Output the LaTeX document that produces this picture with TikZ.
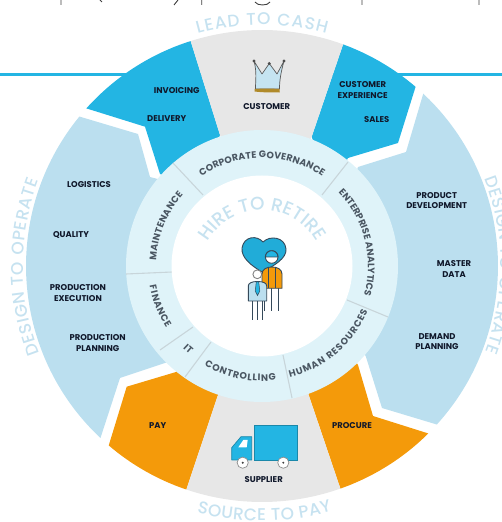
\documentclass[tikz,border=0pt]{standalone}
\usepackage{fontspec}
\setmainfont{Poppins}
\newfontfamily\titlefont{Poppins Medium}
\usetikzlibrary{calc,decorations.text}
\definecolor{bluesec}{HTML}{23B5E3}
\definecolor{lightsec}{HTML}{BBDFEF}
\definecolor{greysec}{HTML}{E7E7E7}
\definecolor{orangesec}{HTML}{F49A0A}
\definecolor{ringc}{HTML}{DFF3F9}
\definecolor{outertxt}{HTML}{C6E2F0}
\definecolor{labeltxt}{HTML}{10182B}
\definecolor{ringtxt}{HTML}{4A5662}
\definecolor{divc}{HTML}{C8D5DA}
\definecolor{iconline}{HTML}{35495A}
\definecolor{goldband}{HTML}{B08A2A}
\newcommand{\arctext}[7]{% size colour centre r a b text
  \path[decorate,decoration={text along path,text align={fit to path},
    text={|\fontsize{#1}{#1}\selectfont\bfseries\color{#2}|#7}}]
    ($(#3)+(#5:#4)$) arc[start angle=#5,end angle=#6,radius=#4];}
\newcommand{\arctitle}[7]{% same, medium weight
  \path[decorate,decoration={text along path,text align={fit to path},
    text={|\titlefont\fontsize{#1}{#1}\selectfont\color{#2}|#7}}]
    ($(#3)+(#5:#4)$) arc[start angle=#5,end angle=#6,radius=#4];}
\tikzset{
  seclabel/.style={font=\fontsize{8.4}{10.6}\selectfont\bfseries,text=labeltxt,align=center,inner sep=0pt},
  divline/.style={draw=divc,line width=1.1pt},
  iconstroke/.style={draw=iconline,line width=0.9pt,line join=round}
}
\begin{document}
\begin{tikzpicture}[x=1pt,y=1pt]
\useasboundingbox (0,0) rectangle (502,522);
\clip (0,0) rectangle (502,522);
\coordinate (C) at (262,256);
\coordinate (H) at (262,250);
% cut-off line of text at the top
\draw[color=black!75,line width=0.9pt]
  (61,522)--(61,517) (100,522)--(102,520) (178,522)--(174,517) (201.7,522)--(201.7,517)
  (362,522)--(362,517) (479,522)--(479,517);
\draw[color=black!75,line width=0.9pt] (255,520) .. controls (257,516) and (268,516) .. (270,520);
% rule behind the wheel
\fill[bluesec] (0,445.5) rectangle (502,448.5);
% sectors
\fill[bluesec] ($(C)+(107.6:236)$) arc[start angle=107.6,end angle=138.1,radius=236]
  -- (145,395.3) -- (160,348) -- (200,332) -- (220,387) -- cycle;
\fill[bluesec] ($(C)+(69.9:236)$) arc[start angle=69.9,end angle=49.4,radius=236]
  -- (398,379) -- (348,364) -- (330,332) -- (311.7,385.3) -- cycle;
\fill[greysec] ($(C)+(107.6:236)$) arc[start angle=107.6,end angle=69.9,radius=236]
  -- (311.7,385.3) -- (262,300) -- (220,387) -- cycle;
\fill[lightsec] ($(C)+(140.7:236)$) arc[start angle=140.7,end angle=226.8,radius=236]
  -- (120,144) -- (168,160) -- (200,222) -- (200,332) -- (150,345) -- (138,388) -- cycle;
\fill[lightsec] ($(C)+(46.9:236)$) arc[start angle=46.9,end angle=-42.2,radius=236]
  -- (382,114) -- (366,165) -- (340,222) -- (340,302) -- (358,355) -- (406,370) -- cycle;
\fill[orangesec] (176,150) -- (126.7,135.3) -- ($(C)+(229.5:236)$) arc[start angle=229.5,end angle=251.3,radius=236]
  -- (218,127) -- (230,182) -- (190,192) -- cycle;
\fill[orangesec] (358,157) -- (373,106) -- ($(C)+(-45.2:236)$) arc[start angle=-45.2,end angle=-70.6,radius=236]
  -- (308,129) -- (290,182) -- (335,192) -- cycle;
\fill[greysec] ($(C)+(251.3:236)$) arc[start angle=251.3,end angle=289.4,radius=236]
  -- (308,129) -- (262,220) -- (218,127) -- cycle;
% ring
\fill[ringc] (C) circle[radius=136];
\draw[divline] (173,359)--(203,327);
\draw[divline] (348,360)--(322,327);
\draw[divline] (347,222)--(388,205);
\draw[divline] (283,167)--(292,124);
\draw[divline] (211,180)--(185,145);
\draw[divline] (193,195)--(160,172);
\draw[divline] (172,250)--(126,248);
\fill[white] (C) circle[radius=90.5];
% outer titles
\arctitle{17}{outertxt}{C}{241}{105.5}{74.5}{LEAD TO CASH}
\arctitle{17}{outertxt}{C}{255}{255.2}{285.9}{SOURCE TO PAY}
\arctitle{17}{outertxt}{C}{239}{201.5}{159}{DESIGN TO OPERATE}
\arctitle{17}{outertxt}{C}{239}{21.5}{-21}{DESIGN TO OPERATE}
\arctitle{18.3}{outertxt}{H}{62}{151}{29}{HIRE TO RETIRE}
% ring titles
\arctext{9.4}{ringtxt}{C}{108}{124}{56}{CORPORATE GOVERNANCE}
\arctext{9.4}{ringtxt}{C}{106}{177}{138}{MAINTENANCE}
\arctext{9.4}{ringtxt}{C}{114}{190}{213}{FINANCE}
\arctext{9.4}{ringtxt}{C}{114}{226}{230.5}{IT}
\arctext{9.4}{ringtxt}{C}{115}{240}{277}{CONTROLLING}
\arctext{9.4}{ringtxt}{C}{115}{-76}{-23}{HUMAN RESOURCES}
\arctext{9.4}{ringtxt}{C}{106}{44}{-16}{ENTERPRISE ANALYTICS}
% sector labels
\node[seclabel] (invoicing) at (176.7,431.3) {INVOICING};
\node[seclabel] (delivery) at (166.7,403.3) {DELIVERY};
\node[seclabel] (customer) at (266.7,415.3) {CUSTOMER};
\node[seclabel] (custexp) at (362.7,432) {CUSTOMER\\EXPERIENCE};
\node[seclabel] (sales) at (376.7,402) {SALES};
\node[seclabel] (logistics) at (89,337) {LOGISTICS};
\node[seclabel] (quality) at (71,287) {QUALITY};
\node[seclabel] (prodexec) at (78,229) {PRODUCTION\\EXECUTION};
\node[seclabel] (prodplan) at (97.7,179) {PRODUCTION\\PLANNING};
\node[seclabel] (proddev) at (436.7,321.3) {PRODUCT\\DEVELOPMENT};
\node[seclabel] (master) at (454,253) {MASTER\\DATA};
\node[seclabel] (demand) at (437,180.3) {DEMAND\\PLANNING};
\node[seclabel] (pay) at (157.7,96.3) {PAY};
\node[seclabel] (procure) at (352,96.3) {PROCURE};
\node[seclabel] (supplier) at (263.7,42) {SUPPLIER};
% crown
\draw[draw=black!65,fill=lightsec!85!white,line width=0.7pt,line join=round]
  (254,461) -- (262,448) -- (269.3,458.5) -- (277,448) -- (284,461)
  .. controls (281,450) and (279.5,442) .. (279.5,433) -- (255.5,433) .. controls (255.5,442) and (257,450) .. (254,461) -- cycle;
\fill[black!70] (254,461) circle[radius=1.6] (269.3,458.5) circle[radius=1.6] (284,461) circle[radius=1.6];
\fill[goldband] (254.5,433) .. controls (262,433.5) and (272,433.5) .. (279.5,433)
  -- (279.8,429.5) .. controls (272,429.5) and (262,429.5) .. (254.5,430.5) -- cycle;
% truck
\draw[fill=bluesec,draw=bluesec!75!black,line width=0.7pt] (254.3,62) rectangle (297.7,96.3);
\draw[fill=bluesec,draw=bluesec!75!black,line width=0.7pt,line join=round]
  (231.7,74.3) -- (241,85.3) -- (251.7,85.3) -- (251.7,62) -- (231.7,62) -- cycle;
\fill[white] (238.3,74.7) -- (243.3,82) -- (247.7,82) -- (246.7,74.7) -- cycle;
\foreach \wx in {242.7,283.3}{
  \draw[fill=white,draw=black!45,line width=0.7pt] (\wx,59.3) circle[radius=5.6];
  \fill[black!75] (\wx,59.3) circle[radius=1.1];
}
% heart
\draw[iconstroke,fill=bluesec!95!black] (263,280) .. controls (257,287) and (244,286) .. (242,274)
  .. controls (241,264) and (252,256) .. (262,250) .. controls (274,256) and (287,264) .. (286,273)
  .. controls (285,285) and (270,287) .. (263,280) -- cycle;
% orange person
\draw[iconstroke] (264,234) -- (264,211);
\draw[iconstroke] (271,234) -- (271,211);
\draw[iconstroke] (278,234) -- (278,211);
\draw[iconstroke,fill=orangesec] (262,233.7) -- (262,248) .. controls (262,253) and (267,255) .. (272,255)
  .. controls (277,255) and (282,253) .. (282,248) -- (282,233.7) -- cycle;
\draw[color=iconline,line width=0.5pt] (268.5,234) -- (268.5,254) (275.5,234) -- (275.5,254);
\draw[iconstroke,fill=white] (271.7,265) circle[radius=6.3];
\draw[iconstroke,fill=bluesec] (265.4,265) arc[start angle=180,end angle=0,radius=6.3] -- cycle;
% blue person
\draw[iconstroke] (252.7,221) -- (252.7,202);
\draw[iconstroke] (257.7,221) -- (257.7,202);
\draw[iconstroke] (262.7,221) -- (262.7,202);
\draw[iconstroke,fill=lightsec] (248.3,221) -- (248.3,236) .. controls (248.3,239) and (252,240.5) .. (257.5,240.5)
  .. controls (263,240.5) and (266.7,239) .. (266.7,236) -- (266.7,221) -- cycle;
\draw[fill=bluesec,draw=iconline,line width=0.5pt] (256.3,240) -- (258.7,240) -- (259.8,231) -- (257.5,226.5) -- (255.2,231) -- cycle;
\draw[draw=black!50,fill=white,line width=0.9pt] (257.3,247.7) circle[radius=4.4];
\end{tikzpicture}
\end{document}
